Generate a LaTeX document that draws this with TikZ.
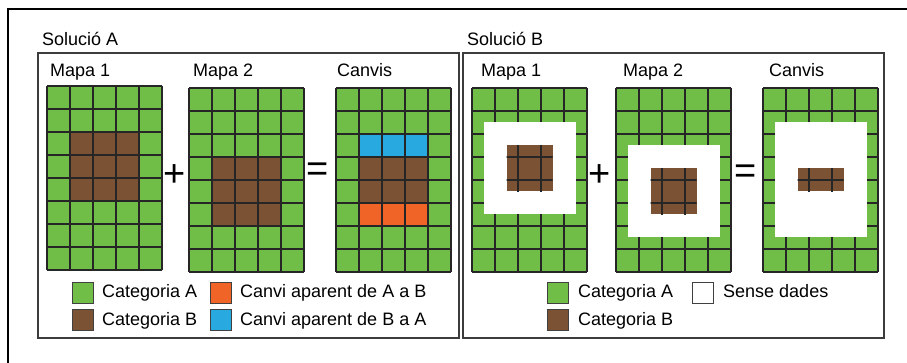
\documentclass[tikz,border=0pt]{standalone}
\usepackage{fontspec}
\setmainfont{Liberation Sans}
\usepackage{xcolor}
\usepackage{tikz}

\definecolor{catA}{RGB}{112,190,72}
\definecolor{catB}{RGB}{124,82,52}
\definecolor{chAB}{RGB}{240,100,40}
\definecolor{chBA}{RGB}{40,170,225}
\definecolor{frame}{RGB}{60,60,60}

\tikzset{
  txt/.style={font=\fontsize{18}{21}\selectfont, inner sep=0pt, anchor=base west},
  oper/.style={font=\fontsize{38}{40}\selectfont, inner sep=0pt},
  gridline/.style={draw=black!85, line width=1.3pt},
  panel/.style={draw=frame, line width=1.6pt},
  legbox/.style={draw=black!75, line width=0.9pt, minimum width=21pt, minimum height=21pt, inner sep=0pt}
}

% 5 x 8 cells, 23 units each
\newcommand{\greenmap}{\fill[catA] (0,0) rectangle (115,184);}
\newcommand{\maplines}{%
  \foreach \i in {0,...,5} \draw[gridline] (\i*23,0) -- (\i*23,184);
  \foreach \j in {0,...,8} \draw[gridline] (0,\j*23) -- (115,\j*23);
}
\newcommand{\brownpatch}[4]{%
  \fill[catB] (#1,#2) rectangle (#3,#4);
  \begin{scope}
    \clip (#1,#2) rectangle (#3,#4);
    \maplines
  \end{scope}
}

\begin{document}
\begin{tikzpicture}[x=1pt, y=-1pt]
  \useasboundingbox (0,0) rectangle (907,363);

  \draw[line width=1.2pt] (8,363) -- (8,9) -- (907,9); % outer frame
  \draw[panel] (38,53) rectangle (459,338); % solucio A
  \draw[panel] (463,53) rectangle (884,338); % solucio B

  \node[txt] (titA) at (42,46) {Solució A};
  \node[txt] (titB) at (467,46) {Solució B};

  % --- Solucio A ---
  \node[txt] (mapA1) at (50,77) {Mapa 1};
  \node[txt] (mapA2) at (193,77) {Mapa 2};
  \node[txt] (canA) at (337,77) {Canvis};

  \begin{scope}[shift={(47,86)}]
    \greenmap
    \fill[catB] (23,46) rectangle (92,115);
    \maplines
  \end{scope}
  \begin{scope}[shift={(189,88)}]
    \greenmap
    \fill[catB] (23,69) rectangle (92,138);
    \maplines
  \end{scope}
  \begin{scope}[shift={(336,88)}]
    \greenmap
    \fill[chBA] (23,46) rectangle (92,69);
    \fill[catB] (23,69) rectangle (92,115);
    \fill[chAB] (23,115) rectangle (92,138);
    \maplines
  \end{scope}

  \node[oper] (plusA) at (175,176) {+};
  \node[oper] (eqA) at (318,172) {=};

  \node[legbox, fill=catA] (legA1) at (82.5,293) {};
  \node[legbox, fill=catB] (legA2) at (82.5,320) {};
  \node[legbox, fill=chAB] (legA3) at (220.5,293) {};
  \node[legbox, fill=chBA] (legA4) at (220.5,320) {};
  \node[txt] (txtA1) at (102,298) {Categoria A};
  \node[txt] (txtA2) at (102,325) {Categoria B};
  \node[txt] (txtA3) at (240,298) {Canvi aparent de A a B};
  \node[txt] (txtA4) at (240,325) {Canvi aparent de B a A};

  % --- Solucio B ---
  \node[txt] (mapB1) at (481,77) {Mapa 1};
  \node[txt] (mapB2) at (623,77) {Mapa 2};
  \node[txt] (canB) at (769,77) {Canvis};

  \begin{scope}[shift={(472,88)}]
    \greenmap
    \maplines
    \fill[white] (11.5,34.5) rectangle (103.5,126.5);
    \brownpatch{34.5}{57.5}{80.5}{103.5}
  \end{scope}
  \begin{scope}[shift={(616,88)}]
    \greenmap
    \maplines
    \fill[white] (11.5,57.5) rectangle (103.5,149.5);
    \brownpatch{34.5}{80.5}{80.5}{126.5}
  \end{scope}
  \begin{scope}[shift={(763,88)}]
    \greenmap
    \maplines
    \fill[white] (11.5,34.5) rectangle (103.5,149.5);
    \brownpatch{34.5}{80.5}{80.5}{103.5}
  \end{scope}

  \node[oper] (plusB) at (600,176) {+};
  \node[oper] (eqB) at (746,174) {=};

  \node[legbox, fill=catA] (legB1) at (558,293) {};
  \node[legbox, fill=catB] (legB2) at (558,320) {};
  \node[legbox, fill=white] (legB3) at (702.5,293) {};
  \node[txt] (txtB1) at (578,298) {Categoria A};
  \node[txt] (txtB2) at (578,325) {Categoria B};
  \node[txt] (txtB3) at (723,298) {Sense dades};
\end{tikzpicture}
\end{document}
